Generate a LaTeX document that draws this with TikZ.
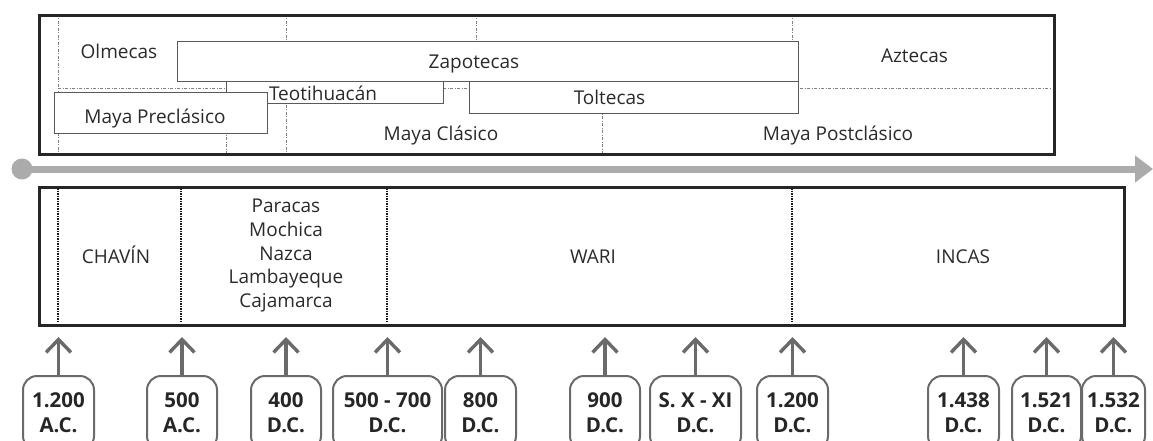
\documentclass[tikz,border=0pt]{standalone}
\usepackage{fontspec}
\setmainfont{Open Sans}
\usetikzlibrary{arrows.meta}
\definecolor{txt}{HTML}{2A2A2A}
\definecolor{arr}{HTML}{6A6A6A}
\definecolor{bar}{HTML}{ABABAB}
\tikzset{
  frame/.style={draw=black!85, line width=3pt, inner sep=0pt, anchor=north west},
  era/.style={draw=black!65, line width=1.3pt, fill=white, inner sep=0pt, anchor=north west},
  lbl/.style={font=\fontsize{19}{23}\selectfont, text=txt, anchor=base, inner sep=0pt},
  lbs/.style={font=\fontsize{19}{24}\selectfont, text=txt, anchor=base, inner sep=0pt},
  datebox/.style={draw=arr, line width=2pt, rounded corners=14pt, minimum height=74pt,
    anchor=north, align=center, font=\bfseries\fontsize{20.5}{25}\selectfont, text=black!85, inner sep=0pt},
  up/.style={draw=arr, line width=3.6pt, -{Straight Barb[length=13pt,width=25pt,line width=3.4pt]}},
  guide/.style={draw=black!50, line width=0.9pt, dash pattern=on 3pt off 1.5pt on 1pt off 1.5pt},
  split/.style={draw=black!90, line width=2.4pt, dash pattern=on 2pt off 1pt on 1pt off 1pt},
  axis/.style={draw=bar, line width=7pt, -{Triangle[length=18pt,width=26pt]}},
}
\begin{document}
\begin{tikzpicture}[x=1pt,y=-1pt]
\useasboundingbox (0,0) rectangle (1153,440);
\clip (0,0) rectangle (1153,440);

% ---------- top frame (Mesoamerica) ----------
\coordinate (g1a) at (58,13.5);  \coordinate (g1b) at (58,153);
\coordinate (g2a) at (286,13.5); \coordinate (g2b) at (286,153);
\coordinate (g3a) at (226,81);   \coordinate (g3b) at (226,153);
\coordinate (g4a) at (476,13.5); \coordinate (g4b) at (476,60);
\coordinate (g5a) at (602,81);   \coordinate (g5b) at (602,153);
\coordinate (g6a) at (792,13.5); \coordinate (g6b) at (792,60);
\coordinate (h1a) at (58,88);    \coordinate (h1b) at (1052,88);
\draw[guide] (g1a) -- (g1b);
\draw[guide] (g2a) -- (g2b);
\draw[guide] (g3a) -- (g3b);
\draw[guide] (g4a) -- (g4b);
\draw[guide] (g5a) -- (g5b);
\draw[guide] (g6a) -- (g6b);
\draw[guide] (h1a) -- (h1b);

\node[era, minimum width=621pt, minimum height=40pt] (zap) at (177,41) {};
\node[era, minimum width=217pt, minimum height=22pt] (teo) at (226,81) {};
\node[era, minimum width=329pt, minimum height=32pt] (tol) at (469,81) {};
\node[era, minimum width=213pt, minimum height=41pt] (mpre) at (54,92) {};
\node[frame, minimum width=1015pt, minimum height=139.5pt] (meso) at (38,13.5) {};

\node[lbl] (tolm) at (119,58) {Olmecas};
\node[lbl] (tzap) at (474,68) {Zapotecas};
\node[lbl] (tteo) at (323,100) {Teotihuacán};
\node[lbl] (ttol) at (609.5,104) {Toltecas};
\node[lbl] (tmpre) at (155,123) {Maya Preclásico};
\node[lbl] (tmcla) at (441,140) {Maya Clásico};
\node[lbl] (tazt) at (914.5,62) {Aztecas};
\node[lbl] (tmpos) at (838,140) {Maya Postclásico};

% ---------- time axis ----------
\node[circle, fill=bar, minimum size=21pt, inner sep=0pt] (start) at (22,169) {};
\coordinate (axend) at (1153,169);
\draw[axis] (start.center) -- (axend);

% ---------- bottom frame (Andes) ----------
\node[frame, minimum width=1085pt, minimum height=138pt] (andes) at (38,186) {};
\coordinate (s1a) at (58,187.5);  \coordinate (s1b) at (58,322.5);
\coordinate (s2a) at (181,187.5); \coordinate (s2b) at (181,322.5);
\coordinate (s3a) at (387,187.5); \coordinate (s3b) at (387,322.5);
\coordinate (s4a) at (792,187.5); \coordinate (s4b) at (792,322.5);
\draw[split] (s1a) -- (s1b);
\draw[split] (s2a) -- (s2b);
\draw[split] (s3a) -- (s3b);
\draw[split] (s4a) -- (s4b);

\node[lbs] (chavin) at (116,263) {CHAVÍN};
\node[lbs] (par1) at (286,212) {Paracas};
\node[lbs] (par2) at (286,236) {Mochica};
\node[lbs] (par3) at (286,260) {Nazca};
\node[lbs] (par4) at (286,283) {Lambayeque};
\node[lbs] (par5) at (286,307) {Cajamarca};
\node[lbs] (wari) at (593,263) {WARI};
\node[lbs] (incas) at (963,263) {INCAS};

% ---------- dates ----------
\node[datebox, minimum width=71pt]  (d1)  at (58.5,375)  {1.200\\A.C.};
\node[datebox, minimum width=70pt]  (d2)  at (182,375)   {500\\A.C.};
\node[datebox, minimum width=70pt]  (d3)  at (286,375)   {400\\D.C.};
\node[datebox, minimum width=109pt] (d4)  at (387.5,375) {500 - 700\\D.C.};
\node[datebox, minimum width=71pt]  (d5)  at (480.5,375) {800\\D.C.};
\node[datebox, minimum width=70pt]  (d6)  at (605,375)   {900\\D.C.};
\node[datebox, minimum width=91pt]  (d7)  at (695.5,375) {S. X - XI\\D.C.};
\node[datebox, minimum width=71pt]  (d8)  at (792.5,375) {1.200\\D.C.};
\node[datebox, minimum width=71pt]  (d9)  at (963.5,375) {1.438\\D.C.};
\node[datebox, minimum width=69pt]  (d10) at (1046.5,375) {1.521\\D.C.};
\node[datebox, minimum width=63pt]  (d11) at (1113.5,375) {1.532\\D.C.};

\coordinate (tipline) at (0,337);
\foreach \d in {d1,d2,d3,d4,d5,d6,d7,d8,d9,d10,d11}{
  \draw[up] (\d.north) -- (\d.north |- tipline);
}
\end{tikzpicture}
\end{document}
